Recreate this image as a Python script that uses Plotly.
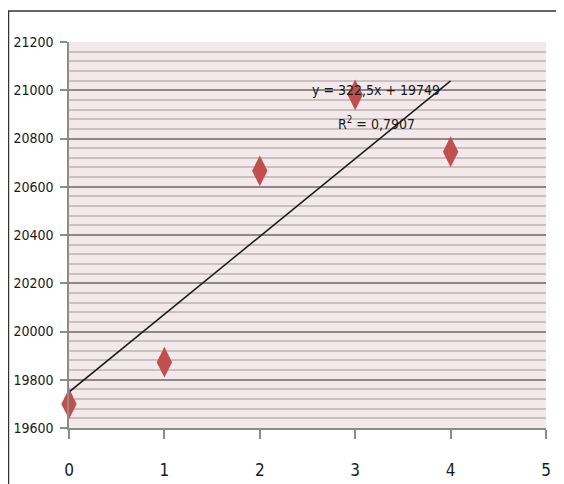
import plotly.graph_objects as go

x_vals = [0, 1, 2, 3, 4]
y_vals = [19700, 19873, 20666, 20981, 20745]
trend_slope = 322.5
trend_intercept = 19749
trend_x = [0, 4]
eq_text = "y = 322,5x + 19749"
r2_text = "R<sup>2</sup> = 0,7907"
y_ticks = [19600, 19800, 20000, 20200, 20400, 20600, 20800, 21000, 21200]
y_tick_labels = [str(v) for v in y_ticks]
x_ticks = [0, 1, 2, 3, 4, 5]

FONT = "Liberation Sans Narrow, DejaVu Sans Condensed, Lato, sans-serif"

W, H = 564, 484
L, R, T, B = 61, 26, 34, 64
pw, ph = W - L - R, H - T - B

fig = go.Figure()
fig.add_trace(go.Scatter(
    x=trend_x, y=[trend_slope * t + trend_intercept for t in trend_x],
    mode="lines", line=dict(color="#1a1a1a", width=1.5), hoverinfo="skip"))
fig.add_trace(go.Scatter(
    x=x_vals, y=y_vals, mode="markers",
    marker=dict(symbol="diamond-tall", size=22, color="#c0504d",
                line=dict(width=0)), cliponaxis=False))

fig.update_layout(
    width=W, height=H,
    margin=dict(l=L, r=R, t=T, b=B, autoexpand=False),
    paper_bgcolor="white", plot_bgcolor="#f3e9eb",
    showlegend=False,
    font=dict(family=FONT, size=15, color="#1a1a1a"),
    xaxis=dict(range=[0, 5], tickvals=x_ticks, showgrid=False, zeroline=False,
               automargin=False,
               showline=True, linecolor="#8c8c8c", linewidth=1.5,
               ticks="outside", ticklen=9, tickcolor="#8c8c8c", tickwidth=1.5,
               tickfont=dict(family=FONT, size=17), ticklabelstandoff=17),
    yaxis=dict(range=[19600, 21200], tickvals=y_ticks, ticktext=y_tick_labels,
               automargin=False,
               showgrid=True, gridcolor="#8f8789", gridwidth=2, zeroline=False,
               showline=True, linecolor="#8c8c8c", linewidth=1.5,
               ticks="outside", ticklen=7, tickcolor="#8c8c8c", tickwidth=1.5,
               tickfont=dict(family=FONT, size=14), ticklabelstandoff=4,
               minor=dict(dtick=40, showgrid=True, gridcolor="#cbbfc2", gridwidth=2)),
    annotations=[
        dict(x=3.22, y=21001, xref="x", yref="y", text=eq_text, showarrow=False,
             font=dict(family=FONT, size=14, color="#1a1a1a"), xanchor="center", yanchor="middle"),
        dict(x=3.22, y=20864, xref="x", yref="y", text=r2_text, showarrow=False,
             font=dict(family=FONT, size=14, color="#1a1a1a"), xanchor="center", yanchor="middle"),
    ],
    shapes=[
        dict(type="line", xref="paper", yref="paper", x0=-L / pw, x1=1 + R / pw,
             y0=1 + (T - 3) / ph, y1=1 + (T - 3) / ph,
             line=dict(color="#333333", width=1.5)),
        dict(type="line", xref="paper", yref="paper", x0=-L / pw + 0.001, x1=-L / pw + 0.001,
             y0=1 + (T - 3) / ph, y1=-B / ph,
             line=dict(color="#333333", width=1.5)),
    ],
)

fig.write_html("out.html")
